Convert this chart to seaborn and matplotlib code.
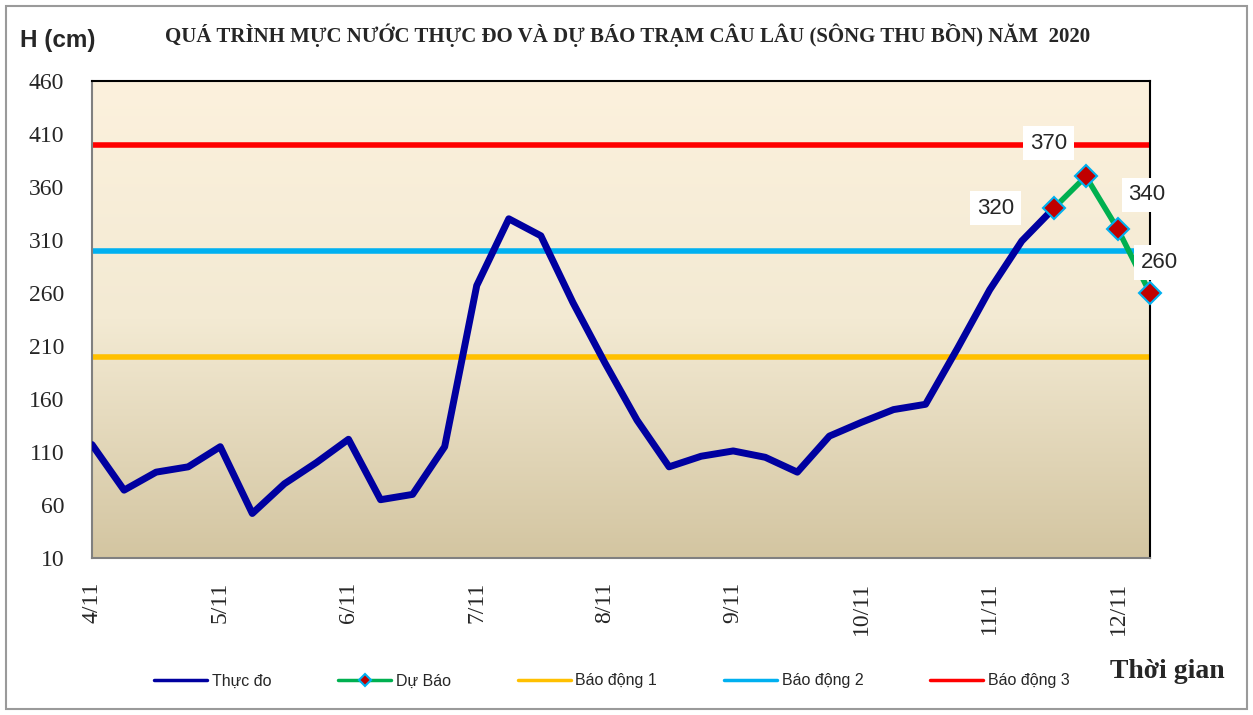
"""Water level chart: observed vs forecast, Cau Lau station 2020."""

import matplotlib

matplotlib.use("Agg")

import matplotlib.pyplot as plt
import numpy as np
import seaborn as sns
from matplotlib.colors import LinearSegmentedColormap
from matplotlib.patches import Rectangle

# 6-hourly steps from 4/11 00h to 12/11 06h (index 0..33)
obs_step = list(range(0, 31))
observed = [117, 74, 91, 96, 115, 52, 80, 100, 122, 65, 70, 115, 267, 330, 314,
            251, 194, 140, 96, 106, 111, 105, 91, 125, 138, 150, 155, 208, 263,
            309, 340]

fc_step = [30, 31, 32, 33]
forecast = [340, 370, 320, 260]
forecast_labels = ["320", "370", "340", "260"]

alarm_levels = [200, 300, 400]
alarm_names = ["Báo động 1", "Báo động 2", "Báo động 3"]
alarm_colors = ["#FFC000", "#00B0F0", "#FF0000"]

day_steps = [0, 4, 8, 12, 16, 20, 24, 28, 32]
day_labels = ["4/11", "5/11", "6/11", "7/11", "8/11", "9/11", "10/11", "11/11", "12/11"]

y_ticks = list(range(10, 461, 50))

TITLE = "QUÁ TRÌNH MỰC NƯỚC THỰC ĐO VÀ DỰ BÁO TRẠM CÂU LÂU (SÔNG THU BỒN) NĂM  2020"

sns.set_style("white")
plt.rcParams["font.family"] = ["Liberation Serif", "DejaVu Serif"]

W, H = 1253, 715
fig = plt.figure(figsize=(W / 100, H / 100), dpi=100)
ax = fig.add_axes([92 / W, 1 - 558 / H, (1150 - 92) / W, (558 - 81) / H])

# gradient background of the plot area
bg = LinearSegmentedColormap.from_list("bg", ["#FCF1DD", "#F3EAD3", "#D3C5A1"])
grad = np.linspace(0, 1, 256).reshape(-1, 1)
ax.imshow(grad, extent=[0, 1, 0, 1], transform=ax.transAxes, aspect="auto",
          cmap=bg, zorder=0)

for level, name, color in zip(alarm_levels, alarm_names, alarm_colors):
    ax.axhline(level, color=color, lw=4, label=name, zorder=2)

sns.lineplot(x=obs_step, y=observed, ax=ax, color="#0000A0", lw=5,
             label="Thực đo", zorder=4)
sns.lineplot(x=fc_step, y=forecast, ax=ax, color="#00B050", lw=4,
             marker="D", markersize=11, markerfacecolor="#C00000",
             markeredgecolor="#00B0F0", markeredgewidth=1.5,
             label="Dự Báo", zorder=5, clip_on=False)

# data labels (as they appear on the original)
offsets = [(-42, 0), (-27, 24), (21, 25), (7, 22)]
for xs, ys, txt, off in zip(fc_step, forecast, forecast_labels, offsets):
    ax.annotate(txt, (xs, ys), xytext=off, textcoords="offset points",
                ha="center", va="center", fontsize=16, family="Liberation Sans",
                bbox=dict(boxstyle="square,pad=0.3", fc="white", ec="none"),
                zorder=6, annotation_clip=False)

ax.set_xlim(0, 33)
ax.set_ylim(10, 460)
ax.set_yticks(y_ticks)
ax.set_xticks(day_steps)
ax.set_xticklabels(day_labels, rotation=90)
ax.set_xticks(list(range(0, 34)), minor=True)
ax.tick_params(axis="y", direction="out", length=7, color="#808080",
               labelsize=17, pad=13)
ax.tick_params(axis="x", which="both", direction="in", length=6,
               color="#808080", labelsize=17, pad=17)
ax.set_xlabel("")
ax.set_ylabel("")

ax.spines["left"].set_color("#808080")
ax.spines["bottom"].set_color("#808080")
ax.spines["top"].set_color("black")
ax.spines["right"].set_color("black")
for sp in ax.spines.values():
    sp.set_linewidth(1.5)

# legend in figure bottom
handles, labels = ax.get_legend_handles_labels()
ax.get_legend().remove()
order = ["Thực đo", "Dự Báo", "Báo động 1", "Báo động 2", "Báo động 3"]
hmap = dict(zip(labels, handles))
leg = fig.legend([hmap[k] for k in order], order, loc="center",
                 bbox_to_anchor=(612 / W, 1 - 681 / H), ncol=5, frameon=False,
                 handlelength=3.3, handletextpad=0.3, columnspacing=4.2,
                 prop={"family": "Liberation Sans", "size": 11.5})
for line in leg.get_lines():
    line.set_linewidth(2.5)
    line.set_markersize(6)

fig.text(628 / W, 1 - 35 / H, TITLE, ha="center", va="center", fontsize=15,
         fontweight="bold")
fig.text(20 / W, 1 - 40 / H, "H (cm)", ha="left", va="center", fontsize=17.5,
         fontweight="bold", family="Liberation Sans")
fig.text(1225 / W, 1 - 671 / H, "Thời gian", ha="right", va="center",
         fontsize=20, fontweight="bold")

fig.add_artist(Rectangle((0.005, 0.008), 0.99, 0.984, transform=fig.transFigure,
                         fill=False, ec="#9A9A9A", lw=1.5))

fig.savefig("out.png", dpi=100)
plt.close(fig)
